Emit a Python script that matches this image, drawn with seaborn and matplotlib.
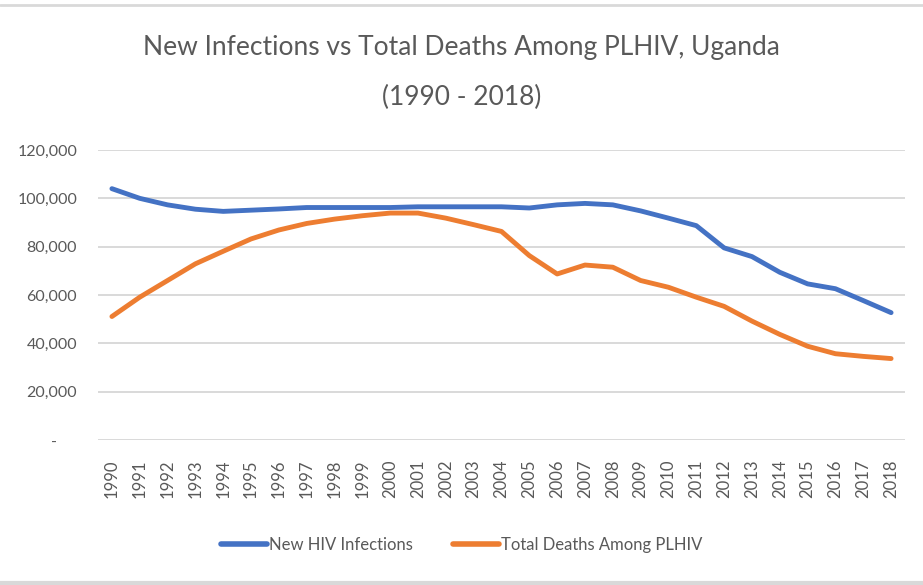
import pandas as pd
import matplotlib.pyplot as plt
import seaborn as sns
from matplotlib.lines import Line2D
from matplotlib.ticker import FuncFormatter

# --- data ---
roky = list(range(1990, 2019))
nove_infekce = [104000, 100000, 97300, 95500, 94600, 95100, 95600, 96200, 96200, 96200,
                96200, 96500, 96500, 96500, 96500, 96000, 97300, 97900, 97300, 94800,
                91800, 88700, 79500, 75900, 69400, 64600, 62600, 57700, 52700]
umrti = [51100, 59100, 66000, 72900, 78100, 83200, 86900, 89600, 91400, 92800,
         93900, 93900, 91800, 89100, 86300, 76300, 68700, 72400, 71500, 66000,
         63200, 59100, 55300, 49200, 43700, 38800, 35700, 34600, 33700]
serie = ['New HIV Infections', 'Total Deaths Among PLHIV']
barvy = ['#4472C4', '#ED7D31']
titulek = ['New Infections vs Total Deaths Among PLHIV, Uganda', '(1990 - 2018)']

df = pd.DataFrame({'Rok': [str(r) for r in roky] * 2,
                   'Hodnota': nove_infekce + umrti,
                   'Serie': [serie[0]] * len(roky) + [serie[1]] * len(roky)})

sns.set_style('white')
plt.rcParams['font.family'] = ['Lato', 'DejaVu Sans']
seda = '#595959'

fig = plt.figure(figsize=(9.23, 5.85), dpi=100)
ax = fig.add_axes([98 / 923, 1 - 440 / 585, (905 - 98) / 923, (440 - 150) / 585])

sns.lineplot(data=df, x='Rok', y='Hodnota', hue='Serie', palette=barvy,
             linewidth=3.5, ax=ax, sort=False, legend=False)

ax.set_xlim(-0.5, len(roky) - 0.5)
ax.set_ylim(0, 120000)
ax.set_yticks(range(0, 120001, 20000))
# nula jako pomlčka (účetní formát v Excelu)
ax.yaxis.set_major_formatter(FuncFormatter(lambda v, p: '-     ' if v == 0 else f'{int(v):,}'))
ax.grid(axis='y', color='#d9d9d9', linewidth=1.4)
ax.set_axisbelow(True)
for s in ax.spines.values():
    s.set_visible(False)
ax.tick_params(axis='y', length=0, pad=15, labelsize=11.5, labelcolor=seda)
ax.tick_params(axis='x', length=0, pad=14, labelsize=12, labelcolor=seda, rotation=90)
ax.set_xlabel('')
ax.set_ylabel('')

# titulek na dva řádky
fig.text(0.5, 1 - 48 / 585, titulek[0], ha='center', va='center', fontsize=19, color=seda)
fig.text(0.5, 1 - 97 / 585, titulek[1], ha='center', va='center', fontsize=19, color=seda)

handles = [Line2D([], [], color=c, linewidth=4) for c in barvy]
fig.legend(handles, serie, loc='center', bbox_to_anchor=(0.5, 1 - 545 / 585),
           ncol=2, frameon=False, fontsize=12, handlelength=2.8, handletextpad=0.1,
           columnspacing=2.4, labelcolor=seda)

# světlé linky nahoře a dole
fig.add_artist(Line2D([0, 1], [1 - 5 / 585, 1 - 5 / 585], transform=fig.transFigure,
                      color='#d9d9d9', linewidth=2))
fig.add_artist(Line2D([0, 1], [1 - 583 / 585, 1 - 583 / 585], transform=fig.transFigure,
                      color='#d9d9d9', linewidth=3))

fig.savefig('out.png', dpi=100)
